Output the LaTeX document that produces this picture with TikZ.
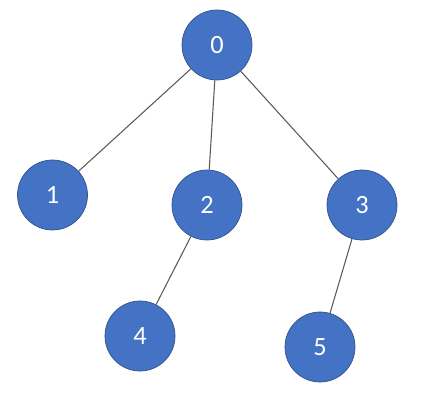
\documentclass[tikz,border=0pt]{standalone}
\usepackage{fontspec}
\setmainfont{Carlito}
\definecolor{nodeblue}{HTML}{4472C4}
\definecolor{nodeedge}{HTML}{2F528F}
\definecolor{edgegray}{HTML}{595959}

\begin{document}
\begin{tikzpicture}[vertex/.style={circle, fill=nodeblue, draw=nodeedge, line width=0.4pt, minimum size=1.4cm, inner sep=0pt, text=white, font=\fontsize{15}{18}\selectfont}, branch/.style={draw=edgegray, line width=0.6pt}]
	\useasboundingbox (0,0) rectangle (8.5,8.12);
	\node[vertex] (n0) at (4.34,7.22) {0};
	\node[vertex] (n1) at (1.05,4.22) {1};
	\node[vertex] (n2) at (4.14,4.02) {2};
	\node[vertex] (n3) at (7.24,4.02) {3};
	\node[vertex] (n4) at (2.80,1.40) {4};
	\node[vertex] (n5) at (6.40,1.18) {5};
	\draw[branch] (n0) -- (n1);
	\draw[branch] (n0) -- (n2);
	\draw[branch] (n0) -- (n3);
	\draw[branch] (n2) -- (n4);
	\draw[branch] (n3) -- (n5);
\end{tikzpicture}
\end{document}
